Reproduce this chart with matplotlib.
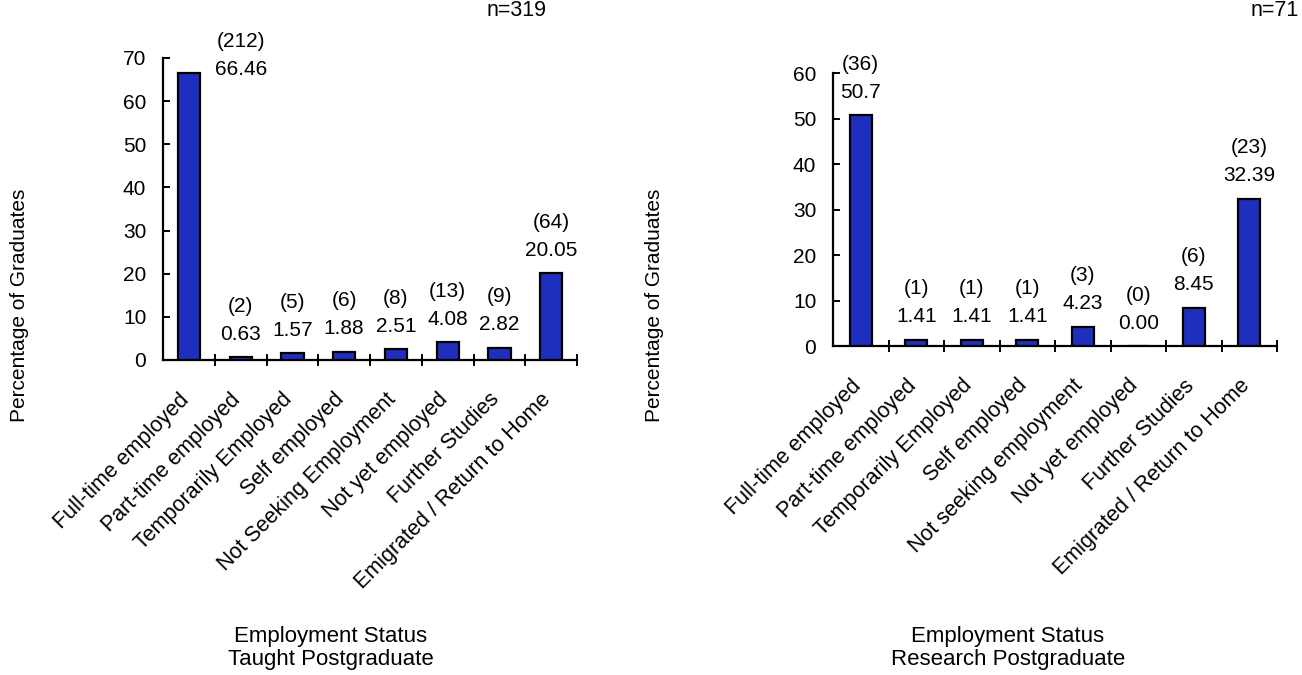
import numpy as np
import matplotlib
matplotlib.use('Agg')
import matplotlib.pyplot as plt
from matplotlib.transforms import ScaledTranslation

plt.rcParams['font.family'] = ['Liberation Sans', 'DejaVu Sans']

# Taught Postgraduate
tp_status = ['Full-time employed', 'Part-time employed', 'Temporarily Employed', 'Self employed',
             'Not Seeking Employment', 'Not yet employed', 'Further Studies', 'Emigrated / Return to Home']
tp_pct = [66.46, 0.63, 1.57, 1.88, 2.51, 4.08, 2.82, 20.05]
tp_pct_text = ['66.46', '0.63', '1.57', '1.88', '2.51', '4.08', '2.82', '20.05']
tp_count = [212, 2, 5, 6, 8, 13, 9, 64]

# Research Postgraduate
rp_status = ['Full-time employed', 'Part-time employed', 'Temporarily Employed', 'Self employed',
             'Not seeking employment', 'Not yet employed', 'Further Studies', 'Emigrated / Return to Home']
rp_pct = [50.7, 1.41, 1.41, 1.41, 4.23, 0.00, 8.45, 32.39]
rp_pct_text = ['50.7', '1.41', '1.41', '1.41', '4.23', '0.00', '8.45', '32.39']
rp_count = [36, 1, 1, 1, 3, 0, 6, 23]

BAR_COLOR = '#1f2fbd'
FS = 15

fig = plt.figure(figsize=(13.02, 6.75), dpi=100)


def draw(ax, status, pct, pct_text, count, ymax, bar_w, first_shift=None):
    x = np.arange(len(status))
    ax.bar(x, pct, width=bar_w, color=BAR_COLOR, edgecolor='black', linewidth=1.6, zorder=3)

    for i, (v, t, c) in enumerate(zip(pct, pct_text, count)):
        xi, dy = x[i], 23
        if i == 0 and first_shift is not None:
            # label pushed beside the tall first bar
            xi, dy = x[i] + first_shift[0], first_shift[1]
        ax.annotate(t, xy=(xi, v), xytext=(0, dy), textcoords='offset pixels',
                    ha='center', va='center', fontsize=FS)
        ax.annotate(f'({c})', xy=(xi, v), xytext=(0, dy + 28), textcoords='offset pixels',
                    ha='center', va='center', fontsize=FS, annotation_clip=False)

    ax.set_xlim(-0.5, len(status) - 0.5)
    ax.set_ylim(0, ymax)
    ax.set_yticks(np.arange(0, ymax + 1, 10))
    ax.spines['top'].set_visible(False)
    ax.spines['right'].set_visible(False)
    ax.spines['left'].set_linewidth(1.6)
    ax.spines['bottom'].set_linewidth(1.6)
    ax.tick_params(axis='y', direction='in', length=5, width=1.4, pad=12, labelsize=FS)

    ax.set_xticks(x)
    ax.set_xticklabels(status, rotation=45, ha='right', va='top', rotation_mode='anchor', fontsize=15.5)
    ax.tick_params(axis='x', which='major', length=0, pad=21)
    ax.set_xticks(np.arange(0.5, len(status), 1), minor=True)
    ax.tick_params(axis='x', which='minor', direction='inout', length=8, width=1.4)
    shift = ScaledTranslation(-0.105, 0, fig.dpi_scale_trans)
    for lbl in ax.get_xticklabels():
        lbl.set_transform(lbl.get_transform() + shift)


ax1 = fig.add_axes([0.1252, 0.4667, 0.3180, 0.4474])
draw(ax1, tp_status, tp_pct, tp_pct_text, tp_count, 70, 0.43, first_shift=(1, 4))

ax2 = fig.add_axes([0.6398, 0.4874, 0.3410, 0.4044])
draw(ax2, rp_status, rp_pct, rp_pct_text, rp_count, 60, 0.40)

fig.text(20 / 1302, 1 - 305 / 675, 'Percentage of Graduates', rotation=90,
         ha='center', va='center', fontsize=15)
fig.text(655 / 1302, 1 - 305 / 675, 'Percentage of Graduates', rotation=90,
         ha='center', va='center', fontsize=15)

fig.text(331 / 1302, 1 - 648 / 675, 'Employment Status\nTaught Postgraduate',
         ha='center', va='center', fontsize=16, linespacing=1.15)
fig.text(1008 / 1302, 1 - 648 / 675, 'Employment Status\nResearch Postgraduate',
         ha='center', va='center', fontsize=16, linespacing=1.15)

fig.text(517 / 1302, 1 - 11 / 675, 'n=319', ha='center', va='center', fontsize=15.5)
fig.text(1299 / 1302, 1 - 11 / 675, 'n=71', ha='right', va='center', fontsize=15.5)

fig.savefig('out.png', dpi=100)
